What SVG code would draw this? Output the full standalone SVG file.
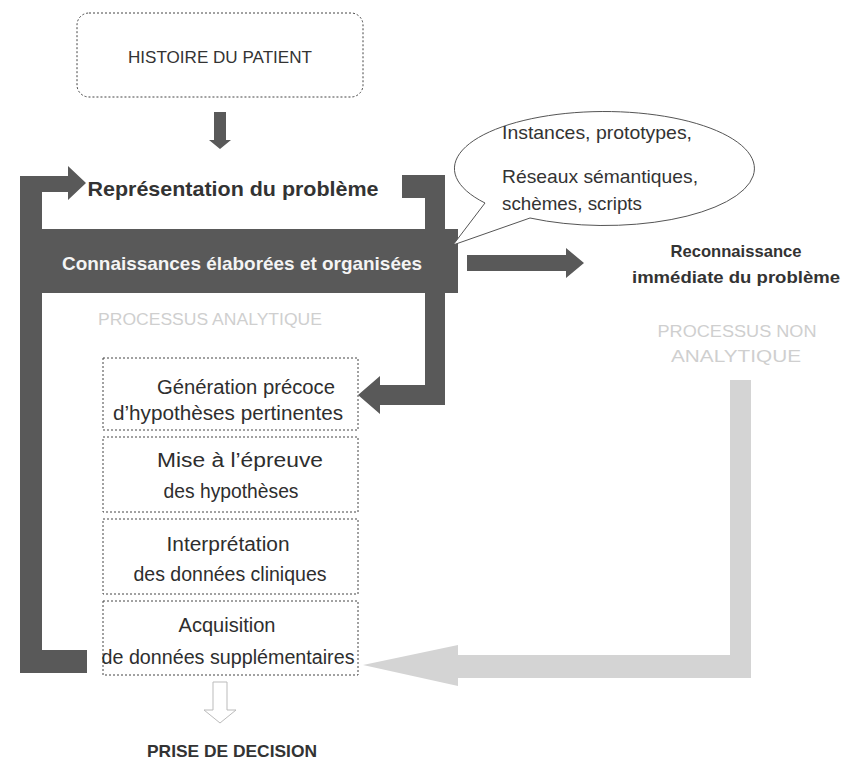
<svg xmlns="http://www.w3.org/2000/svg" width="858" height="763" viewBox="0 0 858 763">
<style>
.t{font-family:"Liberation Sans",Arial,sans-serif;fill:#333;text-anchor:middle}
.b{font-weight:bold}
.bt{font-size:19.5px;fill:#2e2e2e}
.box{fill:#fff;stroke:#444;stroke-width:1;stroke-dasharray:2 2}
.dark{fill:#595959}
.light{fill:#d4d4d4}
.faint{font-family:"Liberation Sans",Arial,sans-serif;fill:#cfcfcf;text-anchor:middle;font-size:16px}
.bub{font-family:"Liberation Sans",Arial,sans-serif;font-size:19px;fill:#333}
</style>
<rect width="858" height="763" fill="#fff"/>
<g id="histoire">
<rect x="77" y="13" width="286" height="84" rx="12" class="box"/>
<text x="220" y="63" class="t" font-size="17" textLength="184" lengthAdjust="spacingAndGlyphs">HISTOIRE DU PATIENT</text>
</g>
<g id="connectors">
<polygon class="dark" points="214,112 226,112 226,140 231,140 220,149 209,140 214,140"/>
<polygon class="dark" points="20,673 87,673 87,650 42,650 42,192 68,192 68,200 86,183 68,166 68,176 20,176"/>
<polygon class="dark" points="402,175 445,175 445,229 425,229 425,198 402,198"/>
<polygon class="dark" points="425,293 445,293 445,405 380,405 380,414 358,395 380,376 380,385 425,385"/>
<polygon class="dark" points="467,255 566,255 566,248 584,263 566,278 566,271 467,271"/>
<polygon class="light" points="730,380 751,380 751,678 458,678 458,686 363,665 458,645 458,655 730,655"/>
<polygon points="213,682 227,682 227,710 236,710 220,723 204,710 213,710" fill="#fff" stroke="#bbb" stroke-width="1"/>
</g>
<g id="representation">
<text x="233" y="196" class="t b" font-size="21" fill="#222" textLength="291" lengthAdjust="spacingAndGlyphs">Représentation du problème</text>
</g>
<g id="connaissances">
<rect x="42" y="229" width="416" height="64" class="dark"/>
<text x="242" y="270" class="t b" font-size="18.5" style="fill:#f4f4f4" textLength="360" lengthAdjust="spacingAndGlyphs">Connaissances élaborées et organisées</text>
</g>
<g id="bubble">
<path d="M485,203 A150,57 0 1 1 530,218 L453,245 Z" fill="#fff" stroke="#555" stroke-width="1"/>
<text x="502" y="139" class="bub" textLength="190" lengthAdjust="spacingAndGlyphs">Instances, prototypes,</text>
<text x="502" y="183" class="bub" textLength="196" lengthAdjust="spacingAndGlyphs">Réseaux sémantiques,</text>
<text x="502" y="210" class="bub" textLength="140" lengthAdjust="spacingAndGlyphs">schèmes, scripts</text>
</g>
<g id="reconnaissance">
<text x="736" y="257" class="t b" font-size="17" fill="#222" textLength="131" lengthAdjust="spacingAndGlyphs">Reconnaissance</text>
<text x="736" y="283" class="t b" font-size="17" fill="#222" textLength="208" lengthAdjust="spacingAndGlyphs">immédiate du problème</text>
</g>
<g id="processus-analytique">
<text x="210" y="325" class="faint" textLength="224" lengthAdjust="spacingAndGlyphs">PROCESSUS ANALYTIQUE</text>
</g>
<g id="processus-non-analytique">
<text x="737" y="337" class="faint" textLength="159" lengthAdjust="spacingAndGlyphs">PROCESSUS NON</text>
<text x="736" y="362" class="faint" textLength="130" lengthAdjust="spacingAndGlyphs">ANALYTIQUE</text>
</g>
<g id="generation">
<rect x="103" y="358" width="255" height="72" class="box"/>
<text x="246" y="394" class="t bt" textLength="178" lengthAdjust="spacingAndGlyphs">Génération précoce</text>
<text x="228" y="420" class="t bt" textLength="230" lengthAdjust="spacingAndGlyphs">d’hypothèses pertinentes</text>
</g>
<g id="mise">
<rect x="103" y="437" width="255" height="75" class="box"/>
<text x="240" y="467" class="t bt" textLength="166" lengthAdjust="spacingAndGlyphs">Mise à l’épreuve</text>
<text x="231" y="498" class="t bt" textLength="135" lengthAdjust="spacingAndGlyphs">des hypothèses</text>
</g>
<g id="interpretation">
<rect x="103" y="519" width="255" height="75" class="box"/>
<text x="228" y="551" class="t bt" textLength="123" lengthAdjust="spacingAndGlyphs">Interprétation</text>
<text x="230" y="581" class="t bt" textLength="193" lengthAdjust="spacingAndGlyphs">des données cliniques</text>
</g>
<g id="acquisition">
<rect x="103" y="601" width="255" height="74" class="box"/>
<text x="227" y="632" class="t bt" textLength="97" lengthAdjust="spacingAndGlyphs">Acquisition</text>
<text x="228" y="664" class="t bt" textLength="253" lengthAdjust="spacingAndGlyphs">de données supplémentaires</text>
</g>
<g id="decision">
<text x="232" y="757" class="t b" font-size="17" fill="#222" textLength="170" lengthAdjust="spacingAndGlyphs">PRISE DE DECISION</text>
</g>
</svg>
